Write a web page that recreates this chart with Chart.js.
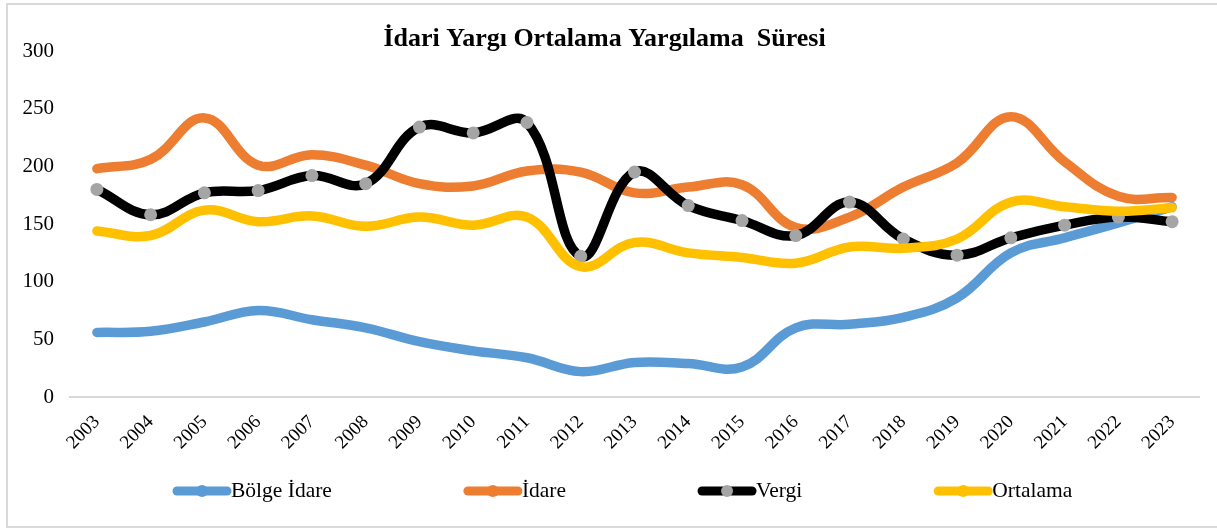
<!DOCTYPE html>
<html>
<head>
<meta charset="utf-8">
<script src="https://cdn.jsdelivr.net/npm/chart.js@4.4.1/dist/chart.umd.min.js"></script>
<style>
  html, body { margin: 0; padding: 0; background: #fff; }
  #wrap { width: 1217px; height: 529px; }
</style>
</head>
<body>
<div id="wrap"><canvas id="grafico" width="1217" height="529"></canvas></div>
<script>
// ===== DATA =====
const years = ['2003', '2004', '2005', '2006', '2007', '2008', '2009', '2010', '2011', '2012', '2013',
  '2014', '2015', '2016', '2017', '2018', '2019', '2020', '2021', '2022', '2023'];

const bolgeIdare = [56, 57, 65, 75, 67, 60, 48, 40, 34, 22, 30, 29, 26, 60, 63, 69, 86, 125, 138, 151, 165];
const idare = [198, 206, 242, 201, 210, 201, 185, 183, 196, 195, 177, 182, 184, 147, 156, 182, 203, 243, 204, 174, 173];
const vergi = [180, 158, 177, 179, 192, 185, 234, 229, 238, 122, 195, 166, 153, 140, 169, 137, 123, 138, 149, 156, 152];
const ortalama = [144, 140, 162, 152, 157, 148, 156, 149, 156, 113, 134, 125, 121, 116, 130, 129, 137, 169, 165, 161, 164];

const yTicks = [0, 50, 100, 150, 200, 250, 300];

const serif = '"Liberation Serif", "Times New Roman", serif';

// ===== PLUGINS =====
// white page with the thin grey frame
const moldura = {
  id: 'moldura',
  beforeDraw(chart) {
    const ctx = chart.ctx;
    ctx.save();
    ctx.fillStyle = '#fff';
    ctx.fillRect(0, 0, chart.width, chart.height);
    ctx.strokeStyle = '#D9D9D9';
    ctx.lineWidth = 2;
    ctx.strokeRect(7, 4, chart.width + 10, 523);
    ctx.restore();
  }
};

// legend drawn as line + marker like the office chart
const legenda = {
  id: 'legenda',
  afterDraw(chart) {
    const ctx = chart.ctx;
    const y = 491;
    let x = 173;
    ctx.save();
    ctx.font = '21.5px ' + serif;
    ctx.textBaseline = 'middle';
    chart.data.datasets.forEach(ds => {
      ctx.strokeStyle = ds.borderColor;
      ctx.lineWidth = 9;
      ctx.lineCap = 'round';
      ctx.beginPath();
      ctx.moveTo(x + 4, y);
      ctx.lineTo(x + 54, y);
      ctx.stroke();

      ctx.fillStyle = ds.pointBackgroundColor;
      ctx.beginPath();
      ctx.arc(x + 29, y, 6, 0, Math.PI * 2);
      ctx.fill();

      ctx.fillStyle = '#000';
      ctx.fillText(ds.label, x + 58, y);
      x += 58 + ctx.measureText(ds.label).width + 132;
    });
    ctx.restore();
  }
};

// ===== CHART =====
function serie(label, data, cor, ponto, ordem) {
  return {
    label,
    data,
    borderColor: cor,
    backgroundColor: cor,
    borderWidth: 9.5,
    borderCapStyle: 'round',
    borderJoinStyle: 'round',
    tension: 0.4,
    pointRadius: ponto ? 6.5 : 0,
    pointBackgroundColor: ponto || cor,
    pointBorderWidth: 0,
    order: ordem
  };
}

new Chart(document.getElementById('grafico'), {
  type: 'line',
  data: {
    labels: years,
    datasets: [
      serie('Bölge İdare', bolgeIdare, '#5B9BD5', null, 3),
      serie('İdare', idare, '#ED7D31', null, 2),
      serie('Vergi', vergi, '#000000', '#A5A5A5', 1),
      serie('Ortalama', ortalama, '#FFC000', null, 0)
    ]
  },
  options: {
    responsive: false,
    animation: false,
    layout: { padding: { left: 10, right: 18, top: 0, bottom: 62 } },
    plugins: {
      legend: { display: false },
      tooltip: { enabled: false },
      title: {
        display: true,
        text: 'İdari Yargı Ortalama Yargılama  Süresi',
        color: '#000',
        font: { family: serif, size: 26, weight: 'bold', lineHeight: 0.875 },
        padding: { top: 28, bottom: 0.25 }
      }
    },
    scales: {
      x: {
        offset: true,
        grid: { display: false, drawTicks: false },
        border: { display: true, color: '#D9D9D9', width: 2 },
        ticks: {
          color: '#000',
          font: { family: serif, size: 19 },
          minRotation: 45,
          maxRotation: 45,
          padding: 14,
          autoSkip: false
        },
        afterFit: s => { s.height = 70; }
      },
      y: {
        min: 0,
        max: 300,
        afterBuildTicks: s => { s.ticks = yTicks.map(v => ({ value: v })); },
        grid: { display: false, drawTicks: false },
        border: { display: false },
        ticks: {
          color: '#000',
          font: { family: serif, size: 21 },
          padding: 16
        },
        afterFit: s => { s.width = 60; }
      }
    }
  },
  plugins: [moldura, legenda]
});
</script>
</body>
</html>
